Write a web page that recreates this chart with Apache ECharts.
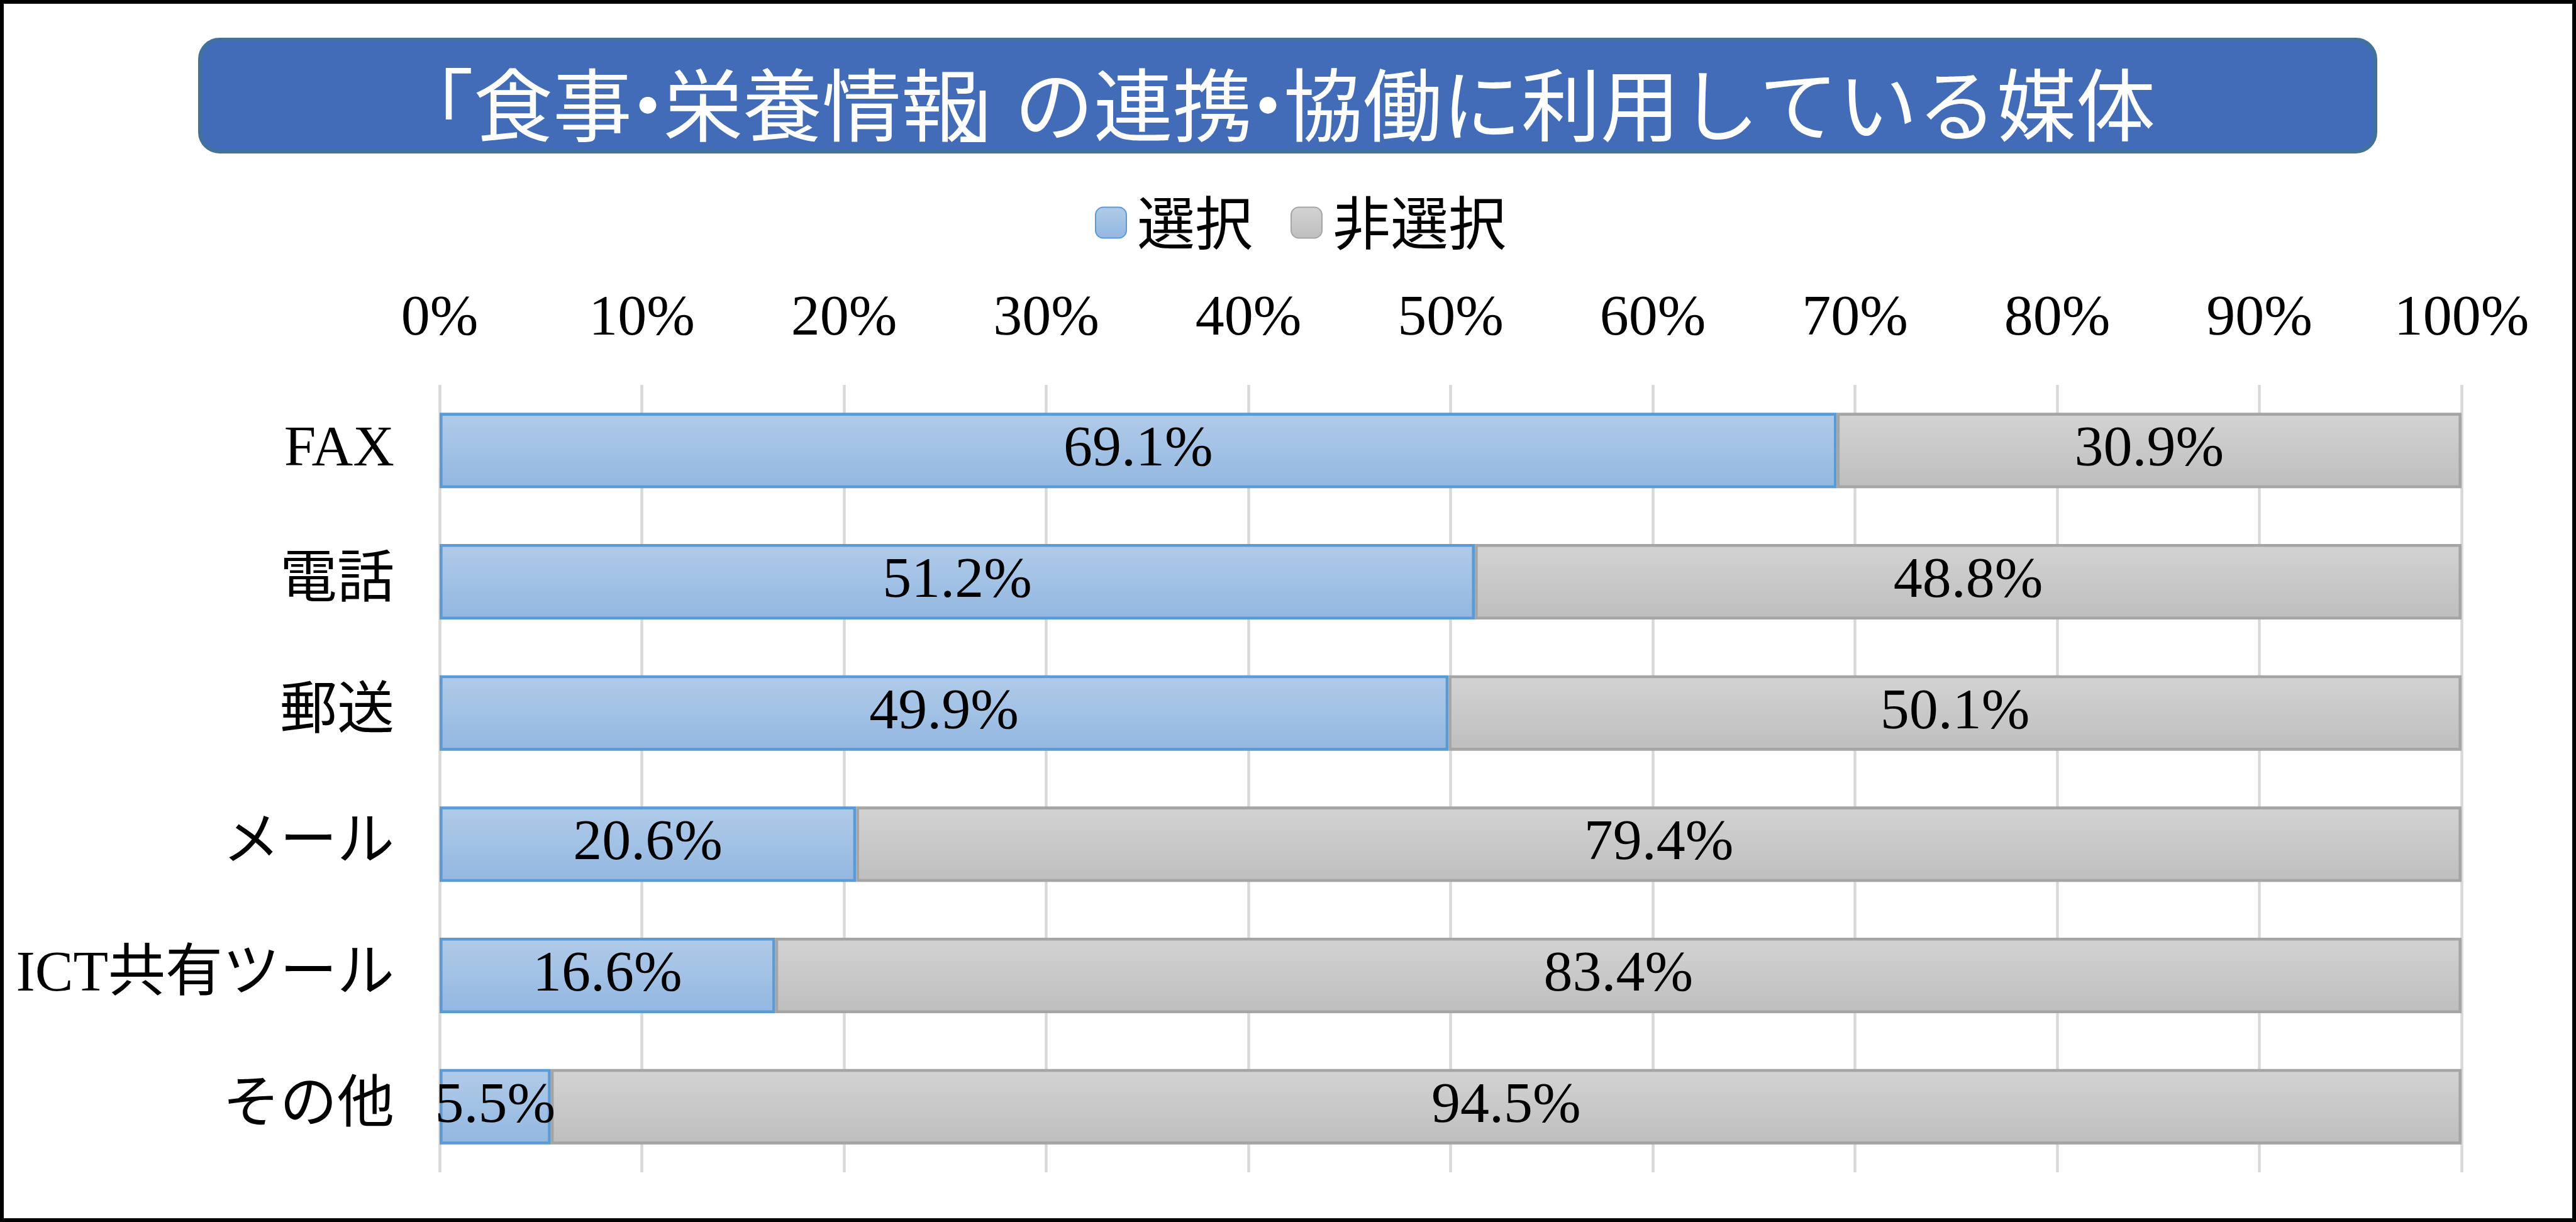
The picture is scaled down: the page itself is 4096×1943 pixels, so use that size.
<!DOCTYPE html>
<html>
<head>
<meta charset="utf-8">
<script src="https://cdn.jsdelivr.net/npm/echarts@6/dist/echarts.min.js"></script>
<style>
  html, body { margin: 0; padding: 0; background: #ffffff; }
  #chart { width: 4096px; height: 1943px; }
</style>
</head>
<body>
<div id="chart"></div>
<script>
const titleText = '「食事・栄養情報」の連携・協働に利用している媒体';
const categories = ['FAX', '電話', '郵送', 'メール', 'ICT共有ツール', 'その他'];
const seriesNames = ['選択', '非選択'];
const selectedValues = [69.1, 51.2, 49.9, 20.6, 16.6, 5.5];
const notSelectedValues = [30.9, 48.8, 50.1, 79.4, 83.4, 94.5];
const tickValues = [0, 10, 20, 30, 40, 50, 60, 70, 80, 90, 100];

const chart = echarts.init(document.getElementById('chart'));
const serif = "'Liberation Serif', 'Noto Sans CJK JP', serif";
const gothic = "'Noto Sans CJK JP', sans-serif";

// proportional punctuation in the title (rich text keeps the same characters)
const richTitle = titleText
  .replace(/」/g, '{rb|」}')
  .replace(/・/g, '{dot|・}');

const titleFont = { color: '#ffffff', fontFamily: gothic, fontWeight: 'normal', fontSize: 126, lineHeight: 128 };

const blueFill = new echarts.graphic.LinearGradient(0, 0, 0, 1, [
  { offset: 0, color: '#B1CBE9' },
  { offset: 1, color: '#92B7E1' }
]);
const greyFill = new echarts.graphic.LinearGradient(0, 0, 0, 1, [
  { offset: 0, color: '#D3D3D3' },
  { offset: 1, color: '#BEBEBE' }
]);

const labelStyle = {
  show: true,
  position: 'inside',
  color: '#000000',
  fontFamily: serif,
  fontSize: 92,
  formatter: p => p.value.toFixed(1) + '%'
};

chart.setOption({
  backgroundColor: '#ffffff',
  animation: false,
  title: {
    text: richTitle,
    left: 622,
    top: 98,
    z: 10,
    textStyle: Object.assign({}, titleFont, {
      rich: {
        rb: Object.assign({}, titleFont, { width: 54, align: 'left' }),
        dot: Object.assign({}, titleFont, { width: 50, align: 'center' })
      }
    })
  },
  graphic: [
    {
      type: 'rect',
      z: 1,
      shape: { x: 3, y: 3, width: 4090, height: 1937 },
      style: { fill: 'none', stroke: '#000000', lineWidth: 6 }
    },
    {
      type: 'rect',
      z: 2,
      shape: { x: 318, y: 63, width: 3459, height: 178, r: 31 },
      style: { fill: '#436CB8', stroke: '#41719C', lineWidth: 6 }
    }
  ],
  legend: {
    data: seriesNames,
    left: 1736,
    top: 303,
    itemWidth: 49,
    itemHeight: 49,
    itemGap: 60,
    icon: 'roundRect',
    textStyle: {
      fontFamily: gothic,
      fontSize: 92,
      lineHeight: 92,
      color: '#000000',
      padding: [0, 0, 0, 12]
    }
  },
  grid: {
    left: 699,
    right: 182,
    top: 612,
    bottom: 79,
    containLabel: false
  },
  xAxis: {
    type: 'value',
    position: 'top',
    min: 0,
    max: 100,
    interval: 10,
    axisLine: { show: false },
    axisTick: { show: false },
    axisLabel: {
      formatter: v => tickValues.indexOf(v) >= 0 ? v + '%' : '',
      fontFamily: serif,
      fontSize: 92,
      color: '#000000',
      margin: 58
    },
    splitLine: { show: true, lineStyle: { color: '#D9D9D9', width: 4.5 } }
  },
  yAxis: {
    type: 'category',
    inverse: true,
    data: categories,
    axisLine: { show: false },
    axisTick: { show: false },
    axisLabel: {
      fontFamily: serif,
      fontSize: 91,
      color: '#000000',
      margin: 72
    }
  },
  series: [
    {
      name: seriesNames[0],
      type: 'bar',
      stack: 'total',
      barWidth: 120,
      data: selectedValues,
      itemStyle: { color: blueFill, borderColor: '#5B9BD5', borderWidth: 4.6 },
      label: labelStyle
    },
    {
      name: seriesNames[1],
      type: 'bar',
      stack: 'total',
      barWidth: 120,
      data: notSelectedValues,
      itemStyle: { color: greyFill, borderColor: '#A5A5A5', borderWidth: 4.6 },
      label: labelStyle
    }
  ]
});
</script>
</body>
</html>
